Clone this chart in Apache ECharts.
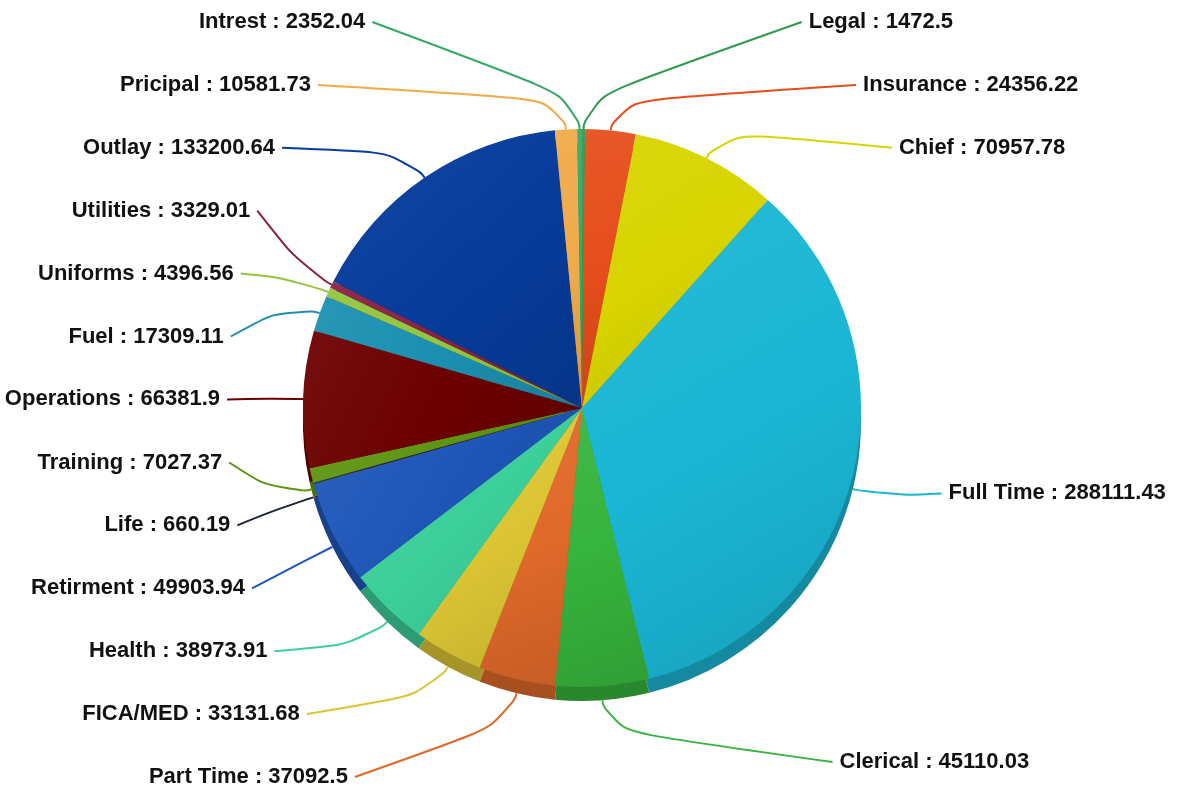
<!DOCTYPE html>
<html>
<head>
<meta charset="utf-8">
<script src="https://cdn.jsdelivr.net/npm/echarts@6/dist/echarts.min.js"></script>
<style>
  html, body { margin: 0; padding: 0; background: #fff; }
  #main { width: 1182px; height: 793px; }
</style>
</head>
<body>
<div id="main"></div>
<script>
// clockwise from 12 o'clock
const names = ["Legal", "Insurance", "Chief", "Full Time", "Clerical", "Part Time", "FICA/MED",
  "Health", "Retirment", "Life", "Training", "Operations", "Fuel", "Uniforms", "Utilities",
  "Outlay", "Pricipal", "Intrest"];
const values = [1472.5, 24356.22, 70957.78, 288111.43, 45110.03, 37092.5, 33131.68,
  38973.91, 49903.94, 660.19, 7027.37, 66381.9, 17309.11, 4396.56, 3329.01,
  133200.64, 10581.73, 2352.04];
const colors = ["#2f9a4c", "#e64d1b", "#d8d400", "#1ab6d4", "#36b43c", "#e0692a", "#dcc534",
  "#3ccf9a", "#1e56b8", "#1c2436", "#5d9512", "#6c0000", "#1b8fb0", "#94c43c", "#8b2040",
  "#073c9c", "#f0aa48", "#35a86a"];

const CX = 582, CY = 408, R = 279, DEPTH = 14;
const ROW = 62.9, TOP = 22, BOTTOM = 777;

function mix(hex, target, t) {
  const n = parseInt(hex.slice(1), 16);
  const r = (n >> 16) & 255, g = (n >> 8) & 255, b = n & 255;
  const f = c => Math.round(c + (target - c) * t);
  return "rgb(" + f(r) + "," + f(g) + "," + f(b) + ")";
}

function topFill(c) {
  return {
    type: "linear", x: 0, y: 0, x2: 1, y2: 1,
    colorStops: [
      { offset: 0, color: mix(c, 255, 0.06) },
      { offset: 0.5, color: c },
      { offset: 1, color: mix(c, 0, 0.12) }
    ]
  };
}

// label placement: mid angle of every slice, then stack labels per side
const total = values.reduce((a, b) => a + b, 0);
let acc = 0;
const mids = values.map(v => {
  const m = (acc + v / 2) / total * Math.PI * 2;
  acc += v;
  return m;
});

const labelPos = [];
function placeSide(idx) {
  const items = idx.map(i => ({ i: i, y: CY - 355 * Math.cos(mids[i]) }));
  const upper = items.filter(d => d.y < CY).sort((a, b) => b.y - a.y);
  const lower = items.filter(d => d.y >= CY).sort((a, b) => a.y - b.y);
  let last = Infinity;
  upper.forEach(d => { d.y = Math.min(d.y, last - ROW); last = d.y; });
  last = -Infinity;
  lower.forEach(d => { d.y = Math.max(d.y, last + ROW); last = d.y; });
  const all = items.sort((a, b) => a.y - b.y);
  for (let k = 0; k < all.length; k++) {
    all[k].y = Math.max(all[k].y, k ? all[k - 1].y + ROW : TOP);
  }
  for (let k = all.length - 1; k >= 0; k--) {
    all[k].y = Math.min(all[k].y, k < all.length - 1 ? all[k + 1].y - ROW : BOTTOM);
  }
  all.forEach(d => { labelPos[d.i] = d.y; });
}
const rightIdx = [], leftIdx = [];
mids.forEach((m, i) => (Math.sin(m) >= 0 ? rightIdx : leftIdx).push(i));
placeSide(rightIdx);
placeSide(leftIdx);

function labelLayout(params) {
  const i = params.dataIndex;
  const a = mids[i];
  const sx = Math.sin(a), cy = -Math.cos(a);
  const right = sx >= 0;
  const y = labelPos[i];
  const dy = Math.min(Math.abs(y - CY), 449);
  const dx = 299 * Math.sqrt(1 - dy * dy / (450 * 450)) + (right ? 73 : 63);
  const x = right ? CX + dx : CX - dx;
  const drop = cy > 0 ? DEPTH : 0;
  const p0 = [CX + R * sx, CY + R * cy + drop];
  const p1 = [p0[0] + 30 * sx, p0[1] + 30 * cy];
  const p2 = [right ? x - 7 : x + 7, y];
  return {
    x: x,
    y: y,
    align: right ? "left" : "right",
    verticalAlign: "middle",
    labelLinePoints: [p0, p1, p2]
  };
}

let mychart = echarts.init(document.getElementById("main"));

mychart.setOption({
  backgroundColor: "#fff",
  series: [
    {
      // side of the disc
      type: "pie",
      silent: true,
      z: 1,
      center: [CX, CY + DEPTH],
      radius: [0, R],
      startAngle: 90,
      label: { show: false },
      labelLine: { show: false },
      data: names.map((n, i) => ({
        name: n,
        value: values[i],
        itemStyle: { color: mix(colors[i], 0, 0.25) }
      }))
    },
    {
      type: "pie",
      z: 2,
      center: [CX, CY],
      radius: [0, R],
      startAngle: 90,
      avoidLabelOverlap: false,
      label: {
        formatter: "{b} : {c}",
        fontFamily: "Liberation Sans",
        fontWeight: "bold",
        fontSize: 22,
        color: "#111",
        overflow: "none"
      },
      labelLine: {
        length: 30,
        length2: 40,
        smooth: 0.8,
        lineStyle: { width: 2 }
      },
      labelLayout: labelLayout,
      data: names.map((n, i) => ({
        name: n,
        value: values[i],
        itemStyle: { color: topFill(colors[i]) },
        labelLine: { lineStyle: { color: colors[i] } }
      }))
    }
  ]
});
</script>
</body>
</html>
